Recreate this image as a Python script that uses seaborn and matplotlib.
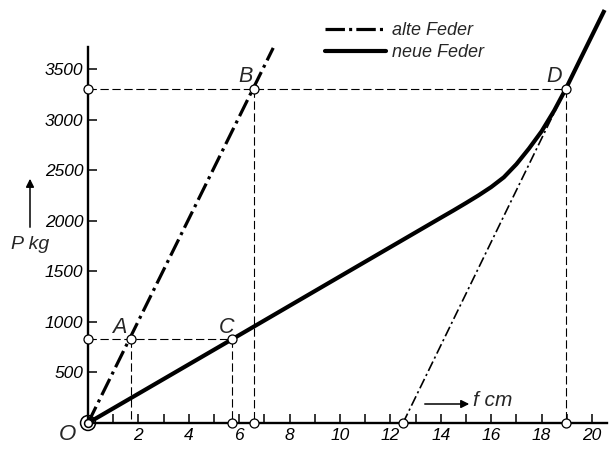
import numpy as np
import pandas as pd
import matplotlib
matplotlib.use("Agg")
import matplotlib.pyplot as plt
import seaborn as sns
from matplotlib.lines import Line2D

# ---------------- data ----------------
old_f = [0.0, 7.35]            # alte Feder, f in cm
old_P = [0.0, 3710.0]          # P in kg
new_f = [0.0, 5.73, 10.0, 14.0, 14.5, 15.0, 15.5, 16.0, 16.5, 17.0, 17.5, 18.0, 18.5, 18.95, 19.5, 20.5]
new_P = [0.0, 830.0, 1450.0, 2030.0, 2102.0, 2176.0, 2252.0, 2334.0, 2430.0, 2560.0, 2715.0, 2885.0, 3090.0, 3300.0, 3580.0, 4085.0]
shift_f = [12.5, 18.95]        # alte Feder, verschoben
shift_P = [0.0, 3300.0]

pt_labels = ["A", "B", "C", "D"]
pt_f = [1.72, 6.6, 5.73, 18.95]
pt_P = [830.0, 3300.0, 830.0, 3300.0]

circle_f = [0.0, 1.72, 5.73, 5.73, 6.6, 0.0, 6.6, 18.95, 18.95, 12.5]
circle_P = [830.0, 830.0, 830.0, 0.0, 0.0, 3300.0, 3300.0, 3300.0, 0.0, 0.0]

ytick_vals = [500, 1000, 1500, 2000, 2500, 3000, 3500]
xtick_major = [2, 4, 6, 8, 10, 12, 14, 16, 18, 20]
xtick_minor = [1, 3, 5, 7, 9, 11, 13, 15, 17, 19]
legend_labels = ["alte Feder", "neue Feder"]

# ---------------- style ----------------
sns.set_theme(style="white")
plt.rcParams["font.family"] = ["Liberation Sans", "DejaVu Sans"]
plt.rcParams["font.style"] = "italic"
plt.rcParams["lines.scale_dashes"] = False

W, H = 613, 449
fig = plt.figure(figsize=(W / 100, H / 100), dpi=100)
fig.patch.set_facecolor("white")
ax = fig.add_axes([0, 0, 1, 1])
ax.set_facecolor("white")

X0, Y0, SX, SY = 88.0, 423.0, 25.2, 0.1011
ax.set_xlim(-X0 / SX, (W - X0) / SX)
ax.set_ylim(-(H - Y0) / SY, Y0 / SY)

# dashed construction lines
dash_kw = dict(color="black", lw=0.8, zorder=2)
for xs, ys in [((0, pt_f[2]), (830, 830)), ((pt_f[0], pt_f[0]), (830, 0)),
               ((pt_f[2], pt_f[2]), (830, 0)), ((0, pt_f[3]), (3300, 3300)),
               ((pt_f[1], pt_f[1]), (3300, 0)), ((pt_f[3], pt_f[3]), (3300, 0))]:
    ln, = ax.plot(xs, ys, **dash_kw)
    ln.set_dashes((6.0, 2.6))

# curves
sns.lineplot(x=old_f, y=old_P, ax=ax, color="black", lw=2.3, zorder=4)
ax.lines[-1].set_dashes((13, 3.6, 2.2, 3.6))
ax.lines[-1].set_dash_capstyle("butt")

sns.lineplot(x=shift_f, y=shift_P, ax=ax, color="black", lw=1.2, zorder=3)
ax.lines[-1].set_dashes((7.5, 2.4, 1.6, 2.4))

sns.lineplot(x=new_f, y=new_P, ax=ax, color="black", lw=3.0, zorder=4)
ax.lines[-1].set_solid_capstyle("butt")
ax.lines[-1].set_solid_joinstyle("round")

# open circles
sns.scatterplot(x=circle_f, y=circle_P, ax=ax, s=42, facecolor="white",
                edgecolor="black", linewidth=0.9, zorder=6)
# origin double circle
sns.scatterplot(x=[0.0], y=[0.0], ax=ax, s=115, facecolor="none",
                edgecolor="black", linewidth=1.1, zorder=6)
sns.scatterplot(x=[0.0], y=[0.0], ax=ax, s=32, facecolor="white",
                edgecolor="black", linewidth=1.1, zorder=7)

# letters
offs = {"A": (-8.5, 8), "B": (-6.5, 9.5), "C": (-4, 8), "D": (-8, 9)}
for lab, fx, py in zip(pt_labels, pt_f, pt_P):
    ax.annotate(lab, (fx, py), xytext=offs[lab], textcoords="offset points",
                ha="center", va="center", fontsize=15.5, style="italic")
ax.annotate("O", (0, 0), xytext=(-15, -8), textcoords="offset points",
            ha="center", va="center", fontsize=16, style="italic")

# axes
for s in ["top", "right"]:
    ax.spines[s].set_visible(False)
ax.spines["left"].set_position(("data", 0))
ax.spines["bottom"].set_position(("data", 0))
ax.spines["left"].set_bounds(0, 3720)
ax.spines["bottom"].set_bounds(0, 20.6)
for s in ["left", "bottom"]:
    ax.spines[s].set_linewidth(1.7)
    ax.spines[s].set_color("black")

ax.set_yticks(ytick_vals)
ax.set_yticklabels([str(v) for v in ytick_vals])
ax.set_xticks(xtick_major)
ax.set_xticklabels([str(v) for v in xtick_major])
ax.set_xticks(xtick_minor, minor=True)
ax.tick_params(axis="both", which="both", direction="in", length=6.5,
               width=1.1, color="black", labelsize=12.5, labelcolor="black")
ax.tick_params(axis="y", pad=3.5, left=True)
ax.tick_params(axis="x", pad=3.5, bottom=True)
ax.tick_params(axis="x", which="minor", bottom=True)
ax.grid(False)

# axis labels with arrows (figure pixels, origin bottom-left)
ax.annotate("", xy=(30, H - 176), xytext=(30, H - 230), xycoords="figure pixels",
            textcoords="figure pixels",
            arrowprops=dict(arrowstyle="-|>", color="black", lw=1.1, mutation_scale=12))
fig.text(30 / W, 1 - 245 / H, "P kg", ha="center", va="center", fontsize=14, style="italic")
ax.annotate("", xy=(472, H - 404), xytext=(422, H - 404), xycoords="figure pixels",
            textcoords="figure pixels",
            arrowprops=dict(arrowstyle="-|>", color="black", lw=1.1, mutation_scale=12))
fig.text(473 / W, 1 - 401 / H, "f cm", ha="left", va="center", fontsize=15, style="italic")

# legend
h1 = Line2D([], [], color="black", lw=2.3, dashes=(14, 3, 2.2, 3))
h2 = Line2D([], [], color="black", lw=3.0)
ax.legend([h1, h2], legend_labels, loc="upper left",
          bbox_to_anchor=(325 / W, 1 - 22 / H), bbox_transform=fig.transFigure,
          frameon=False, handlelength=3.4, handletextpad=0.3,
          labelspacing=0.3, borderpad=0, borderaxespad=0,
          prop=dict(family=["Liberation Sans", "DejaVu Sans"], style="italic", size=13))

fig.savefig("out.png", dpi=100, facecolor="white")
